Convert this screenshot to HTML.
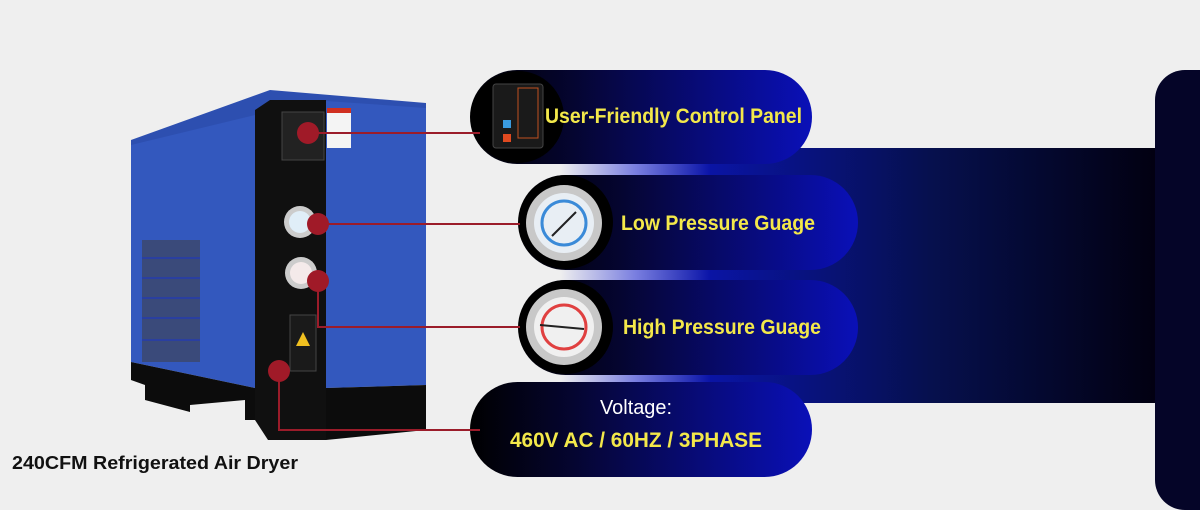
<!DOCTYPE html>
<html><head><meta charset="utf-8"><style>
body{margin:0;width:1200px;height:492px;background:#efefef;overflow:hidden;position:relative;font-family:"Liberation Sans",Arial,sans-serif}
.abs{position:absolute}
.pill{position:absolute;border-radius:48px;background:linear-gradient(90deg,#000 0%,#050530 30%,#0a10b8 100%);}
.t{position:absolute;color:#f3e84a;font-weight:bold;font-size:20px;white-space:nowrap;transform-origin:left center}
</style></head><body>
<div class="abs" style="left:700px;top:148px;width:460px;height:255px;background:linear-gradient(90deg,#0a14a8 0%,#06104e 50%,#020010 100%)"></div>
<div class="abs" style="left:1155px;top:70px;width:60px;height:440px;border-radius:30px 0 0 30px;background:#050528"></div>
<div class="abs" style="left:560px;top:163px;width:150px;height:14px;background:linear-gradient(90deg,#efefef,#7a7fe0,#0a14a8)"></div>
<div class="abs" style="left:560px;top:268px;width:150px;height:14px;background:linear-gradient(90deg,#efefef,#7a7fe0,#0a14a8)"></div>
<div class="abs" style="left:560px;top:373px;width:150px;height:12px;background:linear-gradient(90deg,#efefef,#7a7fe0,#0a14a8)"></div>
<div class="pill" style="left:470px;top:70px;width:342px;height:94px"></div>
<div class="pill" style="left:518px;top:175px;width:340px;height:95px"></div>
<div class="pill" style="left:518px;top:280px;width:340px;height:95px"></div>
<div class="pill" style="left:470px;top:382px;width:342px;height:95px"></div>
<svg class="abs" style="left:0;top:0" width="1200" height="492">
<circle cx="518" cy="117" r="46" fill="#000"/>
<rect x="493" y="84" width="50" height="64" rx="3" fill="#1a1a1a" stroke="#444"/>
<rect x="503" y="120" width="8" height="8" fill="#3a9be0"/><rect x="503" y="134" width="8" height="8" fill="#e04a20"/>
<rect x="518" y="88" width="20" height="50" fill="none" stroke="#c05020"/>
<circle cx="566" cy="222" r="47" fill="#000"/>
<circle cx="564" cy="223" r="38" fill="#c8c8c8"/><circle cx="564" cy="223" r="30" fill="#e8eef4"/><circle cx="564" cy="223" r="22" fill="none" stroke="#3a8ad8" stroke-width="3"/><line x1="552" y1="236" x2="576" y2="212" stroke="#222" stroke-width="2"/>
<circle cx="566" cy="327" r="47" fill="#000"/>
<circle cx="564" cy="327" r="38" fill="#c8c8c8"/><circle cx="564" cy="327" r="30" fill="#f0f0f0"/><circle cx="564" cy="327" r="22" fill="none" stroke="#e04040" stroke-width="3"/><line x1="540" y1="325" x2="584" y2="329" stroke="#222" stroke-width="2"/>
<polygon points="131,140 270,90 426,103 426,110 131,148" fill="#2d4fb0"/>
<polygon points="131,145 255,115 255,388 131,362" fill="#3358be"/>
<polygon points="131,362 255,388 255,420 245,420 245,400 190,405 190,412 145,400 145,385 131,380" fill="#0c0c0c"/>
<rect x="142" y="240" width="58" height="122" fill="#3a4a7a"/>
<g stroke="#2a3fa0" stroke-width="2"><line x1="142" y1="258" x2="200" y2="258"/><line x1="142" y1="278" x2="200" y2="278"/><line x1="142" y1="298" x2="200" y2="298"/><line x1="142" y1="318" x2="200" y2="318"/><line x1="142" y1="340" x2="200" y2="340"/></g>
<polygon points="255,110 270,100 326,100 326,440 268,440 255,420" fill="#101010"/>
<polygon points="326,101 426,108 426,385 326,388" fill="#3358be"/>
<polygon points="326,388 426,385 426,430 326,440" fill="#0c0c0c"/>
<rect x="282" y="112" width="42" height="48" fill="#222" stroke="#444"/>
<rect x="327" y="108" width="24" height="40" fill="#f4f4f4"/><rect x="327" y="108" width="24" height="5" fill="#d03020"/>
<circle cx="300" cy="222" r="16" fill="#ccc"/><circle cx="300" cy="222" r="11" fill="#e0eef8"/>
<circle cx="301" cy="273" r="16" fill="#ccc"/><circle cx="301" cy="273" r="11" fill="#f4eaea"/>
<rect x="290" y="315" width="26" height="56" fill="#1a1a1a" stroke="#444"/>
<polygon points="303,332 296,346 310,346" fill="#f0c020"/>
<g stroke="#9b1c2a" stroke-width="2" fill="none">
<polyline points="308,133 480,133"/><polyline points="318,224 520,224"/>
<polyline points="318,281 318,327 520,327"/><polyline points="279,371 279,430 480,430"/></g>
<g fill="#a01a28"><circle cx="308" cy="133" r="11"/><circle cx="318" cy="224" r="11"/><circle cx="318" cy="281" r="11"/><circle cx="279" cy="371" r="11"/></g>
<text x="12" y="469" font-family="Liberation Sans,Arial,sans-serif" font-weight="bold" font-size="18" fill="#111" textLength="286" lengthAdjust="spacingAndGlyphs">240CFM Refrigerated Air Dryer</text>
<g font-family="Liberation Sans,Arial,sans-serif" font-weight="bold" font-size="21" fill="#f3e84a">
<text x="545" y="123" textLength="257" lengthAdjust="spacingAndGlyphs">User-Friendly Control Panel</text>
<text x="621" y="230" textLength="194" lengthAdjust="spacingAndGlyphs">Low Pressure Guage</text>
<text x="623" y="334" textLength="198" lengthAdjust="spacingAndGlyphs">High Pressure Guage</text>
<text x="510" y="447" textLength="252" lengthAdjust="spacingAndGlyphs">460V AC / 60HZ / 3PHASE</text>
</g>
<text x="600" y="414" font-family="Liberation Sans,Arial,sans-serif" font-size="20" fill="#fff" textLength="72" lengthAdjust="spacingAndGlyphs">Voltage:</text>
</svg>
</body></html>
